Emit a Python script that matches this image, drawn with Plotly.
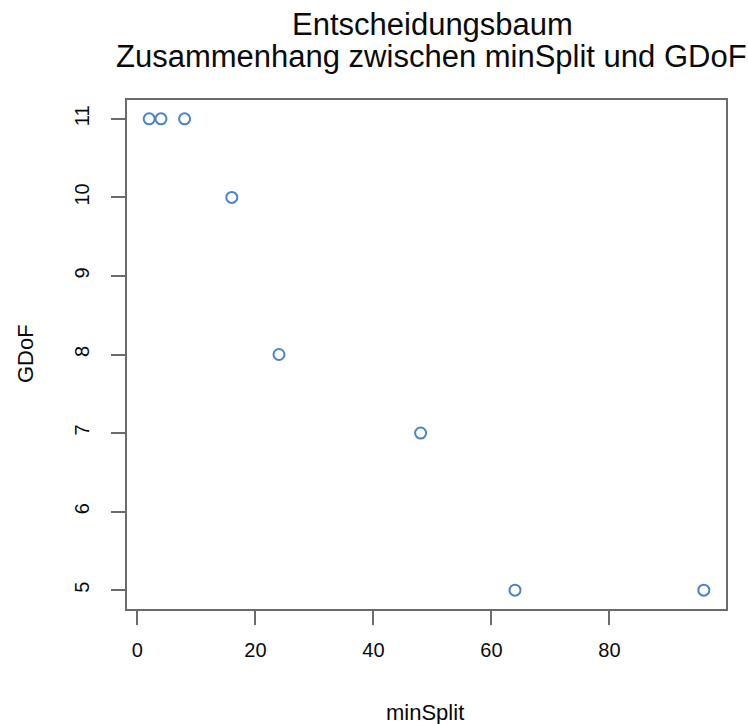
import plotly.graph_objects as go

# minSplit values tried and the resulting generalized degrees of freedom
min_split = [2, 4, 8, 16, 24, 48, 64, 96]
gdof = [11, 11, 11, 10, 8, 7, 5, 5]

x_ticks = [0, 20, 40, 60, 80]
y_ticks = [5, 6, 7, 8, 9, 10, 11]

title_lines = ["Entscheidungsbaum", "Zusammenhang zwischen minSplit und GDoF"]
x_title = "minSplit"
y_title = "GDoF"

FONT = "Liberation Sans, Arial, sans-serif"
AXIS_COLOR = "#6b6b6b"
TEXT_COLOR = "#0a0a0a"

# R-style 4% padding around the data range
def padded(vals, frac=0.04):
    lo, hi = min(vals), max(vals)
    d = (hi - lo) * frac
    return [lo - d, hi + d]

fig = go.Figure(
    go.Scatter(
        x=min_split,
        y=gdof,
        mode="markers",
        marker=dict(
            symbol="circle-open",
            size=11,
            color="#4a84c6",
            line=dict(width=2, color="#4a84c6"),
        ),
        hoverinfo="x+y",
    )
)

axis_common = dict(
    showgrid=False,
    zeroline=False,
    showline=True,
    linecolor=AXIS_COLOR,
    linewidth=2,
    mirror=True,
    ticks="outside",
    ticklen=14,
    tickwidth=2,
    tickcolor=AXIS_COLOR,
    tickfont=dict(family=FONT, size=20, color=TEXT_COLOR),
)

fig.update_xaxes(
    range=padded(min_split),
    tickvals=x_ticks,
    ticktext=[str(v) for v in x_ticks],
    ticklabelstandoff=8,
    **axis_common,
)
fig.update_yaxes(
    range=padded(gdof),
    tickvals=y_ticks,
    ticktext=[str(v) for v in y_ticks],
    tickangle=-90,
    ticklabelstandoff=14,
    **axis_common,
)

L, R, T, B = 127, 22, 100, 115
W, H = 748, 724
plot_h = H - T - B
plot_w = W - L - R


def py(px):
    # pixel row from the top -> paper y
    return (H - B - px) / plot_h


def px_(p):
    # pixel column from the left -> paper x
    return (p - L) / plot_w


annotations = [
    dict(text=title_lines[0], x=px_(432), y=py(24), xref="paper", yref="paper",
         showarrow=False, xanchor="center", yanchor="middle",
         font=dict(family=FONT, size=31, color=TEXT_COLOR)),
    dict(text=title_lines[1], x=px_(431), y=py(57), xref="paper", yref="paper",
         showarrow=False, xanchor="center", yanchor="middle",
         font=dict(family=FONT, size=31, color=TEXT_COLOR)),
    dict(text=x_title, x=px_(425), y=py(712), xref="paper", yref="paper",
         showarrow=False, xanchor="center", yanchor="middle",
         font=dict(family=FONT, size=22, color=TEXT_COLOR)),
    dict(text=y_title, x=px_(25), y=py(353), xref="paper", yref="paper",
         showarrow=False, xanchor="center", yanchor="middle", textangle=-90,
         font=dict(family=FONT, size=22, color=TEXT_COLOR)),
]

fig.update_layout(
    width=W,
    height=H,
    margin=dict(l=L, r=R, t=T, b=B),
    paper_bgcolor="white",
    plot_bgcolor="white",
    showlegend=False,
    annotations=annotations,
)

fig.write_html("out.html")
